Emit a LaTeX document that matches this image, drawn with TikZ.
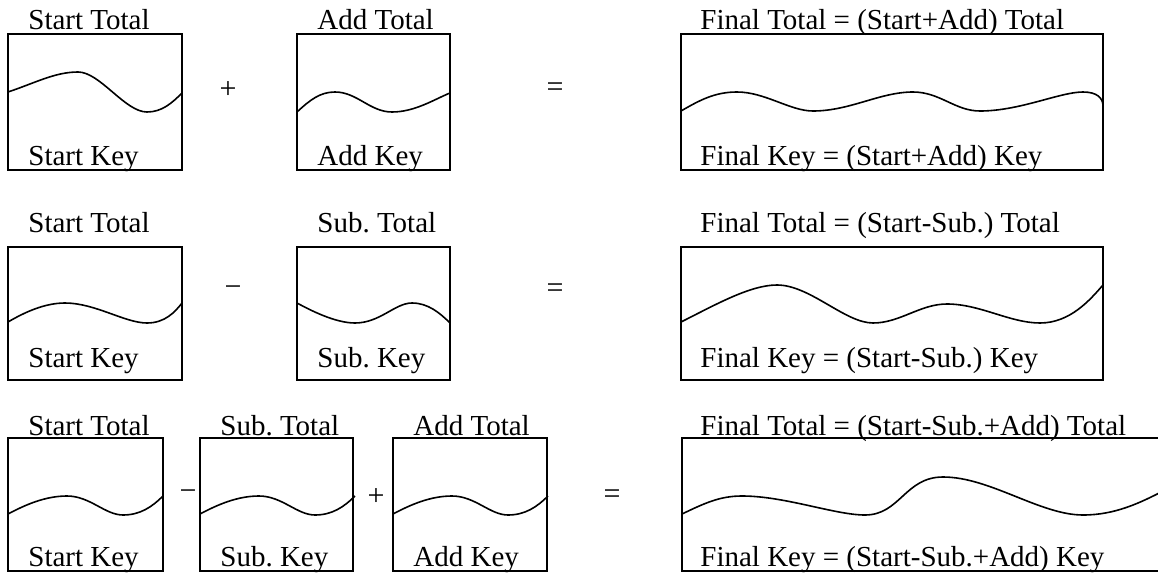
\documentclass[tikz,border=0pt]{standalone}
\usepackage{fontspec}
\setmainfont{Liberation Serif}
\frenchspacing
\usetikzlibrary{fit}
\begin{document}
\begin{tikzpicture}[x=0.5pt,y=-0.5pt,
  box/.style={draw,line width=0.8pt,inner sep=0pt},
  wave/.style={draw,line width=0.8pt},
  lbl/.style={font=\fontsize{14.5}{17}\selectfont,inner sep=0pt,anchor=base west},
  op/.style={font=\fontsize{15}{17}\selectfont,inner sep=0pt,anchor=center}]
\useasboundingbox (0,0) rectangle (1158,573);
\clip (0,0) rectangle (1158,573);
% ---------------- Row 1 ----------------
\node[box,fit={(8,34) (182,170)}] (a1) {};
\node[box,fit={(297,34) (450,170)}] (a2) {};
\node[box,fit={(681,34) (1103,170)}] (a3) {};
\node[lbl] (a1t) at (28,29) {Start Total};
\node[lbl] (a1k) at (28,165) {Start Key};
\node[lbl] (a2t) at (317,29) {Add Total};
\node[lbl] (a2k) at (317,165) {Add Key};
\node[lbl] (a3t) at (700,29) {Final Total = (Start+Add) Total};
\node[lbl] (a3k) at (700,165) {Final Key = (Start+Add) Key};
\node[op] (aplus) at (228,90) {+};
\node[op] (aeq) at (555,90) {=};
\draw[wave] (8,92) .. controls (35,83) and (55,72) .. (78,72)
  .. controls (100,72) and (125,112) .. (147,112)
  .. controls (162,112) and (172,103) .. (182,93);
\draw[wave] (297,112) .. controls (310,100) and (320,92) .. (335,92)
  .. controls (357,92) and (370,112) .. (392,112)
  .. controls (415,112) and (435,99) .. (450,93);
\draw[wave] (681,111) .. controls (700,100) and (715,92) .. (737,92)
  .. controls (765,92) and (790,111) .. (813,111)
  .. controls (850,111) and (880,92) .. (913,92)
  .. controls (940,92) and (955,111) .. (980,111)
  .. controls (1020,111) and (1060,92) .. (1083,92)
  .. controls (1097,92) and (1103,98) .. (1103,106);
% ---------------- Row 2 ----------------
\node[box,fit={(8,247) (182,380)}] (b1) {};
\node[box,fit={(297,247) (450,380)}] (b2) {};
\node[box,fit={(681,247) (1103,380)}] (b3) {};
\node[lbl] (b1t) at (28,232) {Start Total};
\node[lbl] (b1k) at (28,367) {Start Key};
\node[lbl] (b2t) at (317,232) {Sub. Total};
\node[lbl] (b2k) at (317,367) {Sub. Key};
\node[lbl] (b3t) at (700,232) {Final Total = (Start-Sub.) Total};
\node[lbl] (b3k) at (700,367) {Final Key = (Start-Sub.) Key};
\node[op] (bminus) at (233,291) {−};
\node[op] (beq) at (555,291) {=};
\draw[wave] (8,322) .. controls (25,312) and (45,303) .. (65,303)
  .. controls (95,303) and (125,323) .. (147,323)
  .. controls (165,323) and (175,312) .. (182,303);
\draw[wave] (297,303) .. controls (310,310) and (335,323) .. (355,323)
  .. controls (380,323) and (395,303) .. (412,303)
  .. controls (428,303) and (440,313) .. (450,323);
\draw[wave] (681,322) .. controls (715,305) and (750,285) .. (777,285)
  .. controls (810,285) and (845,323) .. (873,323)
  .. controls (900,323) and (920,304) .. (947,304)
  .. controls (980,304) and (1010,323) .. (1040,323)
  .. controls (1070,323) and (1090,300) .. (1103,285);
% ---------------- Row 3 ----------------
\node[box,fit={(8,438) (163,571)}] (c1) {};
\node[box,fit={(200,438) (353,571)}] (c2) {};
\node[box,fit={(393,438) (547,571)}] (c3) {};
\node[box,fit={(682,438) (1175,571)}] (c4) {};
\node[lbl] (c1t) at (28,435) {Start Total};
\node[lbl] (c1k) at (28,566) {Start Key};
\node[lbl] (c2t) at (220,435) {Sub. Total};
\node[lbl] (c2k) at (220,566) {Sub. Key};
\node[lbl] (c3t) at (413,435) {Add Total};
\node[lbl] (c3k) at (413,566) {Add Key};
\node[lbl] (c4t) at (700,435) {Final Total = (Start-Sub.+Add) Total};
\node[lbl] (c4k) at (700,566) {Final Key = (Start-Sub.+Add) Key};
\node[op] (cminus) at (188,495) {−};
\node[op] (cplus) at (376,497) {+};
\node[op] (ceq) at (612,497) {=};
\foreach \s in {0,192,385}{
  \draw[wave,xshift=\s*0.5pt] (8,514) .. controls (25,505) and (45,496) .. (67,496)
    .. controls (90,496) and (105,515) .. (123,515)
    .. controls (140,515) and (152,507) .. (163,496);
}
\draw[wave] (682,514) .. controls (705,503) and (720,496) .. (742,496)
  .. controls (785,496) and (835,515) .. (865,515)
  .. controls (900,515) and (905,477) .. (943,477)
  .. controls (990,477) and (1040,515) .. (1083,515)
  .. controls (1115,515) and (1140,503) .. (1165,490);
\end{tikzpicture}
\end{document}
